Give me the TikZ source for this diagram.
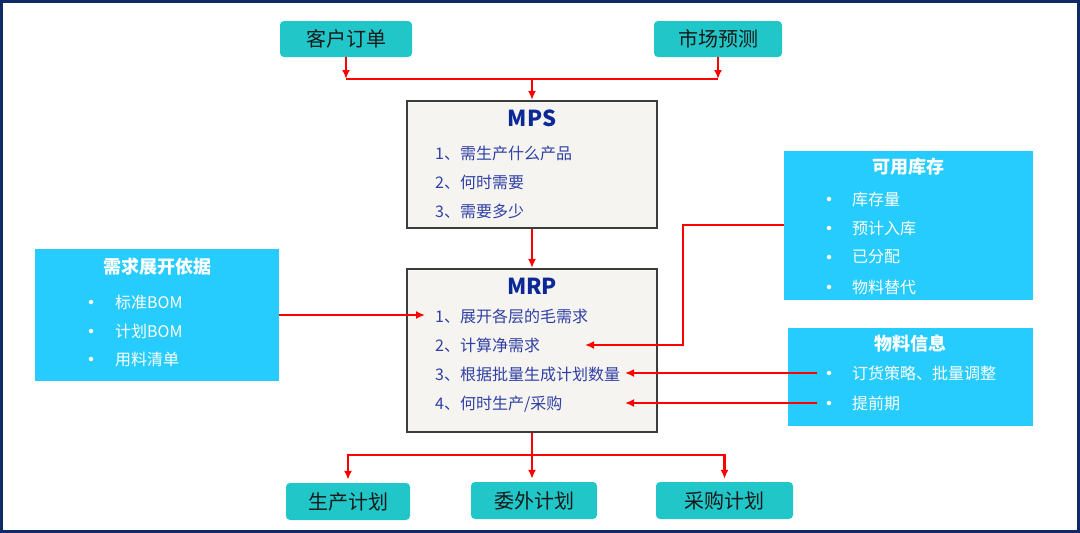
\documentclass[tikz,border=0pt]{standalone}
\usepackage{fontspec}
\setmainfont{Noto Sans CJK SC}
\usetikzlibrary{arrows.meta}
\definecolor{framenavy}{RGB}{16,42,104}
\definecolor{tealfill}{RGB}{33,199,200}
\definecolor{skyfill}{RGB}{38,204,254}
\definecolor{panelfill}{RGB}{245,244,240}
\definecolor{paneldraw}{RGB}{60,60,60}
\definecolor{titleblue}{RGB}{12,40,150}
\definecolor{itemblue}{RGB}{48,64,165}

\begin{document}
\begin{tikzpicture}[x=1pt, y=-1pt,
	srcbox/.style={rectangle, rounded corners=4pt, fill=tealfill, text=black!90, inner sep=0pt, font=\fontsize{20}{24}\selectfont},
	panel/.style={rectangle, draw=paneldraw, line width=2.2pt, fill=panelfill, inner sep=0pt},
	infobox/.style={rectangle, fill=skyfill, inner sep=0pt},
	ptitle/.style={text=titleblue, inner sep=0pt, font=\bfseries\fontsize{22}{26}\selectfont},
	pitem/.style={anchor=west, inner sep=0pt, text=itemblue, font=\fontsize{16}{19}\selectfont},
	btitle/.style={text=white, inner sep=0pt, font=\bfseries\fontsize{18}{22}\selectfont},
	bitem/.style={anchor=west, inner sep=0pt, text=white, font=\fontsize{16}{19}\selectfont},
	dot/.style={circle, fill=white, inner sep=0pt, minimum size=4.5pt},
	wire/.style={red, line width=2.5pt},
	flow/.style={wire, -{Latex[length=9pt,width=8pt]}}]
			%%%%% START %%%%%
			
			\useasboundingbox (0, 0) rectangle (1080, 533);
			\draw[framenavy, line width=3pt] (1.5, 1.5) rectangle (1078.5, 531.5);
			
			% sources
			\node[srcbox, minimum width=132, minimum height=36] (order) at (346, 39) {客户订单};
			\node[srcbox, minimum width=128, minimum height=36] (forecast) at (718, 39) {市场预测};
			
			% MPS
			\node[panel, minimum width=250, minimum height=127] (mps) at (532, 164.5) {};
			\node[ptitle] (mpst) at (532, 118) {MPS};
			\node[pitem] (mps1) at (435, 153) {1、需生产什么产品};
			\node[pitem] (mps2) at (435, 182) {2、何时需要};
			\node[pitem] (mps3) at (435, 211) {3、需要多少};
			
			% MRP
			\node[panel, minimum width=250, minimum height=163] (mrp) at (532, 350.5) {};
			\node[ptitle] (mrpt) at (532, 286) {MRP};
			\node[pitem] (mrp1) at (435, 316) {1、展开各层的毛需求};
			\node[pitem] (mrp2) at (435, 345) {2、计算净需求};
			\node[pitem] (mrp3) at (435, 374) {3、根据批量生成计划数量};
			\node[pitem] (mrp4) at (435, 404) {4、何时生产/采购};
			
			% left block
			\node[infobox, minimum width=244, minimum height=132] (basis) at (157, 315) {};
			\node[btitle] (basist) at (157, 267) {需求展开依据};
			\node[dot] (bb1) at (91, 302) {};
			\node[dot] (bb2) at (91, 331) {};
			\node[dot] (bb3) at (91, 359) {};
			\node[bitem] (basis1) at (115, 302) {标准BOM};
			\node[bitem] (basis2) at (115, 331) {计划BOM};
			\node[bitem] (basis3) at (115, 359) {用料清单};
			
			% right blocks
			\node[infobox, minimum width=249, minimum height=149] (stock) at (908.5, 225.5) {};
			\node[btitle] (stockt) at (908.5, 167) {可用库存};
			\node[dot] (sb1) at (829, 199) {};
			\node[dot] (sb2) at (829, 228) {};
			\node[dot] (sb3) at (829, 257) {};
			\node[dot] (sb4) at (829, 287) {};
			\node[bitem] (stock1) at (852, 199) {库存量};
			\node[bitem] (stock2) at (852, 228) {预计入库};
			\node[bitem] (stock3) at (852, 257) {已分配};
			\node[bitem] (stock4) at (852, 287) {物料替代};
			
			\node[infobox, minimum width=245, minimum height=98] (matinfo) at (910.5, 377) {};
			\node[btitle] (matinfot) at (910.5, 344) {物料信息};
			\node[dot] (mb1) at (829, 373) {};
			\node[dot] (mb2) at (829, 403) {};
			\node[bitem] (matinfo1) at (852, 373) {订货策略、批量调整};
			\node[bitem] (matinfo2) at (852, 403) {提前期};
			
			% plans
			\node[srcbox, minimum width=124, minimum height=37] (prod) at (348, 501.5) {生产计划};
			\node[srcbox, minimum width=126, minimum height=37] (outs) at (534, 500.5) {委外计划};
			\node[srcbox, minimum width=137, minimum height=37] (purch) at (724.5, 500.5) {采购计划};
			
			% connectors
			\coordinate (topbus) at (532, 79);
			\coordinate (botbus) at (532, 455);
			\coordinate (bend) at (683, 225);
			\coordinate (in2) at (585, 345);
			\coordinate (in3) at (625, 373);
			\coordinate (in4) at (625, 403);
			
			\draw[flow] (order.south) -- (order.south |- topbus);
			\draw[flow] (forecast.south) -- (forecast.south |- topbus);
			\draw[wire] (order.south |- topbus) -- (forecast.south |- topbus);
			\draw[flow] (topbus) -- (mps.north);
			\draw[flow] (mps.south) -- (mrp.north);
			
			\draw[flow, shorten >=10pt] (basis.east) -- (basis.east -| mrp1.west);
			\draw[flow] (stock.west |- bend) -- (bend) |- (in2);
			\draw[flow] ([xshift=-12pt]mb1.center) -- (in3);
			\draw[flow] ([xshift=-12pt]mb2.center) -- (in4);
			
			\draw[wire] (mrp.south) -- (botbus);
			\draw[flow, shorten >=3pt] (botbus) -| (prod.north);
			\draw[flow, shorten >=3pt] (botbus) -| (purch.north);
			\draw[flow, shorten >=3pt] (mrp.south) -- (mrp.south |- outs.north);
			
			%%%%% END %%%%%
		\end{tikzpicture}
\end{document}
